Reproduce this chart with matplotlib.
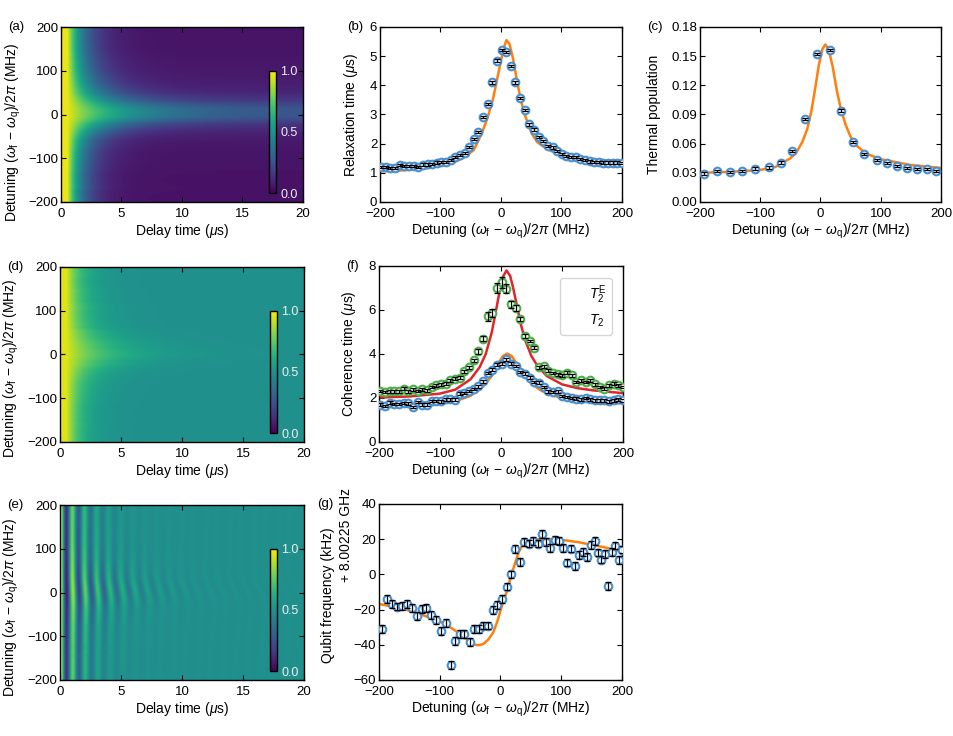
import numpy as np
import matplotlib
matplotlib.use('Agg')
import matplotlib.pyplot as plt
from matplotlib.lines import Line2D

plt.rcParams['font.family'] = 'Liberation Sans'
plt.rcParams['font.size'] = 10
plt.rcParams['axes.labelsize'] = 10
plt.rcParams['xtick.labelsize'] = 9.5
plt.rcParams['ytick.labelsize'] = 9.5
plt.rcParams['mathtext.fontset'] = 'custom'
plt.rcParams['mathtext.rm'] = 'Liberation Sans'
plt.rcParams['mathtext.it'] = 'Liberation Sans:italic'
plt.rcParams['mathtext.bf'] = 'Liberation Sans:bold'
plt.rcParams['xtick.direction'] = 'in'
plt.rcParams['ytick.direction'] = 'in'
plt.rcParams['xtick.top'] = True
plt.rcParams['ytick.right'] = True
plt.rcParams['xtick.major.size'] = 3.5
plt.rcParams['ytick.major.size'] = 3.5
plt.rcParams['xtick.major.pad'] = 4.5
plt.rcParams['ytick.major.pad'] = 2
plt.rcParams['axes.linewidth'] = 1.0

# ---- data ----
# (b) relaxation time and (f) coherence times, same detuning sweep
det_sweep = np.linspace(-198, 200, 53)
t1 = [1.20, 1.20, 1.17, 1.17, 1.26, 1.23, 1.23, 1.23, 1.20, 1.28,
      1.29, 1.31, 1.35, 1.38, 1.38, 1.45, 1.54, 1.62, 1.68, 1.89,
      2.17, 2.40, 2.91, 3.36, 4.10, 4.85, 5.20, 5.14, 4.67, 4.10,
      3.57, 3.15, 2.66, 2.48, 2.23, 2.08, 1.92, 1.87, 1.75, 1.65,
      1.58, 1.54, 1.54, 1.47, 1.45, 1.39, 1.37, 1.37, 1.35, 1.35,
      1.35, 1.35, 1.34]
t1_err = [0.04] * 53

t2e = [2.32, 2.27, 2.30, 2.30, 2.30, 2.42, 2.30, 2.39, 2.32, 2.39,
       2.35, 2.50, 2.58, 2.62, 2.65, 2.80, 2.88, 2.92, 3.21, 3.39,
       3.71, 4.12, 4.70, 5.71, 5.86, 7.00, 7.26, 6.97, 6.26, 6.09,
       5.58, 4.83, 4.59, 4.29, 3.39, 3.44, 3.24, 3.14, 3.08, 3.03,
       3.15, 3.03, 2.73, 2.80, 2.73, 2.80, 2.62, 2.50, 2.42, 2.58,
       2.65, 2.58, 2.50]
t2e_err = [0.06] * 20 + [0.08, 0.1, 0.12, 0.22, 0.2, 0.22, 0.25, 0.22, 0.15, 0.15,
                         0.1, 0.1] + [0.06] * 21
t2 = [1.70, 1.64, 1.79, 1.73, 1.73, 1.77, 1.76, 1.59, 1.82, 1.70,
      1.70, 1.86, 1.86, 1.85, 1.94, 1.94, 1.92, 2.20, 2.23, 2.32,
      2.41, 2.53, 2.76, 3.14, 3.29, 3.52, 3.56, 3.76, 3.56, 3.45,
      3.18, 3.11, 2.92, 2.73, 2.70, 2.50, 2.30, 2.27, 2.30, 2.09,
      2.05, 2.00, 1.97, 1.94, 2.00, 1.94, 1.89, 1.89, 1.89, 1.85,
      1.89, 1.94, 1.89]
t2_err = [0.06] * 53

# (c) thermal population
det_c = [-194, -172, -151, -130, -108, -86, -66, -47, -25, -5, 15,
         34, 54, 73, 93, 110, 127, 143, 160, 177, 192]
pth = [0.0293, 0.0317, 0.0306, 0.0317, 0.0344, 0.0355, 0.0406, 0.0527,
       0.0854, 0.1525, 0.1566, 0.094, 0.0616, 0.0492, 0.043, 0.0403,
       0.0372, 0.0348, 0.0337, 0.0337, 0.0317]
pth_err = [0.0012] * 21

# (g) qubit frequency shift (kHz)
det_g = [-195, -187, -179, -171, -162, -154, -146, -137, -130, -122,
         -114, -106, -98, -90, -82, -75, -67, -60, -51, -44,
         -36, -28, -21, -13, -5, 2, 10, 17, 24, 32,
         39, 47, 54, 61, 68, 75, 82, 89, 96, 103,
         110, 116, 123, 129, 136, 142, 149, 155, 160, 166,
         172, 177, 184, 189, 195, 200]
freq = [-31.0, -13.9, -17.0, -18.3, -17.9, -17.0, -19.2, -23.6, -19.6, -19.2,
        -23.0, -25.9, -32.0, -27.8, -51.6, -37.7, -33.9, -33.9, -38.5, -30.9,
        -30.9, -29.1, -29.1, -20.2, -17.3, -13.9, -6.9, 0.0, 14.3, 7.0,
        18.5, 17.5, 18.9, 17.5, 22.9, 18.5, 15.2, 19.4, 18.9, 15.2,
        6.7, 14.7, 4.8, 11.2, 12.8, 9.9, 16.6, 19.0, 12.4, 8.4,
        11.8, -6.5, 12.6, 16.4, 8.0, 14.1]
freq_err = [2.2] * 56

# fit curves
b_fit_x = [-200, -175, -150, -125, -100, -80, -70, -60, -45, -32, -22, -13, -6, 0, 4,
           9, 14, 20, 26, 33, 40, 51, 60, 70, 81, 100, 125, 150, 175, 200]
b_fit_y = [1.05, 1.07, 1.10, 1.15, 1.24, 1.36, 1.43, 1.55, 1.78, 2.34, 2.9, 3.55, 4.25, 4.85, 5.25,
           5.55, 5.42, 4.9, 4.2, 3.47, 2.95, 2.34, 2.05, 1.9, 1.77, 1.58, 1.42, 1.33, 1.27, 1.22]

c_fit_x = [-200, -150, -100, -75, -50, -40, -30, -22, -15, -8, -3, 3, 8, 13, 20,
           27, 34, 42, 50, 60, 75, 100, 150, 200]
c_fit_y = [0.030, 0.031, 0.033, 0.036, 0.045, 0.051, 0.062, 0.075, 0.094, 0.12, 0.140, 0.157,
           0.162, 0.158, 0.140, 0.115, 0.095, 0.079, 0.067, 0.058, 0.050, 0.044, 0.038, 0.035]

t2e_fit_x = [-200, -150, -100, -75, -50, -35, -25, -15, -8, -2, 3, 9, 15, 20, 26,
             33, 40, 50, 60, 75, 100, 125, 150, 200]
t2e_fit_y = [2.02, 2.07, 2.2, 2.38, 2.85, 3.4, 4.0, 5.0, 6.0, 6.9, 7.5, 7.8, 7.55, 7.0, 6.2,
             5.3, 4.6, 3.9, 3.45, 3.0, 2.62, 2.45, 2.35, 2.22]

t2_fit_x = [-200, -150, -100, -75, -50, -30, -15, -5, 3, 10, 17, 25, 35, 50, 65,
            80, 100, 130, 160, 200]
t2_fit_y = [1.62, 1.65, 1.75, 1.85, 2.1, 2.5, 3.0, 3.55, 3.9, 4.02, 3.92, 3.6, 3.15, 2.65, 2.35,
            2.15, 2.0, 1.88, 1.82, 1.75]

g_fit_x = [-200, -175, -150, -125, -100, -85, -70, -60, -50, -42, -35, -28, -20, -12, -5,
           0, 5, 10, 15, 20, 25, 30, 35, 40, 50, 60, 70, 90, 110, 130, 150, 170, 200]
g_fit_y = [-16.8, -18.5, -20.6, -23.5, -26.7, -29.5, -33, -35.8, -38.5, -40, -40.2, -39.5, -37,
           -33, -26.5, -20.5, -15, -10, -4, 2, 7.5, 12.5, 16, 18, 19.5, 20, 20.2, 20, 19.2,
           18.2, 16.8, 15.5, 12.8]

ramsey_freq = 0.99  # MHz, artificial detuning seen in (e)
t_dead = 0.5        # us, flat start of the decays in (a) and (d)

# ---- heatmaps built from the fitted quantities ----
delay = np.linspace(0, 20, 241)
det_img = np.linspace(-200, 200, 201)
T1_row = np.interp(det_img, det_sweep, t1)[:, None]
pth_row = np.interp(det_img, det_c, pth)[:, None]
T2E_row = np.interp(det_img, det_sweep, t2e)[:, None]
T2_row = np.interp(det_img, det_sweep, t2)[:, None]
df_row = np.interp(det_img, g_fit_x, g_fit_y)[:, None] * 1e-3
t_eff = np.clip(delay - t_dead, 0, None)

base_a = 1.6 * pth_row
img_a = base_a + (0.97 - base_a) * np.exp(-t_eff / T1_row)
img_d = 0.5 + 0.45 * np.exp(-t_eff / (0.5 * T2E_row))
img_e = 0.5 + 0.47 * np.exp(-delay / T2_row) * np.cos(2 * np.pi * (ramsey_freq + df_row) * delay)

blue = '#4a90cf'
green = '#4fae4a'
orange = '#ff7f0e'
red = '#e0252b'

fig = plt.figure(figsize=(9.54, 7.36), dpi=100)


def add_ax(x0, y0, x1, y1):
    return fig.add_axes([x0 / 954, 1 - y1 / 736, (x1 - x0) / 954, (y1 - y0) / 736])


det_label = r'Detuning $(\omega_\mathrm{f}\,-\,\omega_\mathrm{q})/2\pi$ (MHz)'


def heatmap(ax, img, tag, label_y):
    im = ax.imshow(img, origin='lower', aspect='auto', extent=[0, 20, -200, 200],
                   cmap='viridis', vmin=0, vmax=1, interpolation='bilinear')
    ax.set_xlim(0, 20)
    ax.set_ylim(-200, 200)
    ax.set_xticks([0, 5, 10, 15, 20])
    ax.set_yticks([-200, -100, 0, 100, 200])
    ax.set_xlabel(r'Delay time ($\mu$s)', labelpad=1)
    ax.set_ylabel(det_label)
    ax.yaxis.set_label_coords(-0.158, label_y)
    cax = ax.inset_axes([0.86, 0.051, 0.029, 0.70])
    cb = fig.colorbar(im, cax=cax, ticks=[0, 0.5, 1])
    cb.ax.set_yticklabels(['0.0', '0.5', '1.0'], color='#eeeeee', fontsize=9)
    cb.ax.tick_params(length=0, pad=3)
    cb.outline.set_linewidth(1)
    ax.text(-0.218, 1.0, tag, transform=ax.transAxes, va='center', ha='left', fontsize=9.5)


def points(ax, x, y, err, col):
    ax.plot(x, y, 'o', ms=5.5, mfc='white', mec=col, mew=1.5, zorder=3)
    ax.errorbar(x, y, yerr=err, fmt='none', ecolor='k', elinewidth=0.9, capsize=2,
                capthick=0.9, zorder=4)


def det_axis(ax, tag, tx=-0.136):
    ax.set_xlim(-200, 200)
    ax.set_xticks([-200, -100, 0, 100, 200])
    ax.set_xlabel(det_label, labelpad=1)
    ax.text(tx, 1.0, tag, transform=ax.transAxes, va='center', ha='left', fontsize=9.5)


ax_a = add_ax(61, 27, 303, 202)
heatmap(ax_a, img_a, '(a)', 0.40)
ax_d = add_ax(60, 267, 304, 442)
heatmap(ax_d, img_d, '(d)', 0.42)
ax_e = add_ax(60, 505, 304, 680)
heatmap(ax_e, img_e, '(e)', 0.415)

# (b)
ax_b = add_ax(380, 27, 622, 202)
ax_b.plot(b_fit_x, b_fit_y, color=orange, lw=1.8, zorder=2)
points(ax_b, det_sweep, t1, t1_err, blue)
ax_b.set_ylim(0, 6)
ax_b.set_yticks(range(7))
ax_b.set_ylabel(r'Relaxation time ($\mu$s)')
ax_b.yaxis.set_label_coords(-0.083, 0.5)
det_axis(ax_b, '(b)')

# (c)
ax_c = add_ax(700, 27, 941, 202)
ax_c.plot(c_fit_x, c_fit_y, color=orange, lw=1.8, zorder=2)
points(ax_c, det_c, pth, pth_err, blue)
ax_c.set_ylim(0, 0.18)
ax_c.set_yticks([0, 0.03, 0.06, 0.09, 0.12, 0.15, 0.18])
ax_c.set_yticklabels(['0.00', '0.03', '0.06', '0.09', '0.12', '0.15', '0.18'])
ax_c.set_ylabel('Thermal population')
ax_c.yaxis.set_label_coords(-0.162, 0.5)
det_axis(ax_c, '(c)', tx=-0.22)

# (f)
ax_f = add_ax(379, 266, 623, 442)
ax_f.plot(t2e_fit_x, t2e_fit_y, color=red, lw=1.8, zorder=2)
ax_f.plot(t2_fit_x, t2_fit_y, color=orange, lw=1.8, zorder=2)
points(ax_f, det_sweep, t2e, t2e_err, green)
points(ax_f, det_sweep, t2, t2_err, blue)
ax_f.set_ylim(0, 8)
ax_f.set_yticks([0, 2, 4, 6, 8])
ax_f.set_ylabel(r'Coherence time ($\mu$s)')
ax_f.yaxis.set_label_coords(-0.086, 0.5)
det_axis(ax_f, '(f)')
handles = [Line2D([], [], linestyle='none'), Line2D([], [], linestyle='none')]
ax_f.legend(handles, [r'$T_2^\mathrm{E}$', r'$T_2$'], loc='upper right',
            bbox_to_anchor=(0.955, 0.932), borderaxespad=0, fontsize=10,
            handlelength=0.9)

# (g)
ax_g = add_ax(379, 504, 622, 680)
ax_g.plot(g_fit_x, g_fit_y, color=orange, lw=1.8, zorder=2)
points(ax_g, det_g, freq, freq_err, blue)
ax_g.set_ylim(-60, 40)
ax_g.set_yticks([-60, -40, -20, 0, 20, 40])
ax_g.set_ylabel('Qubit frequency (kHz)')
ax_g.yaxis.set_label_coords(-0.182, 0.48)
ax_g.text(-0.108, 0.824, '+ 8.00225 GHz', transform=ax_g.transAxes, rotation=90,
          ha='right', va='center', fontsize=10)
det_axis(ax_g, '(g)', tx=-0.255)

fig.savefig('out.png', dpi=100)
